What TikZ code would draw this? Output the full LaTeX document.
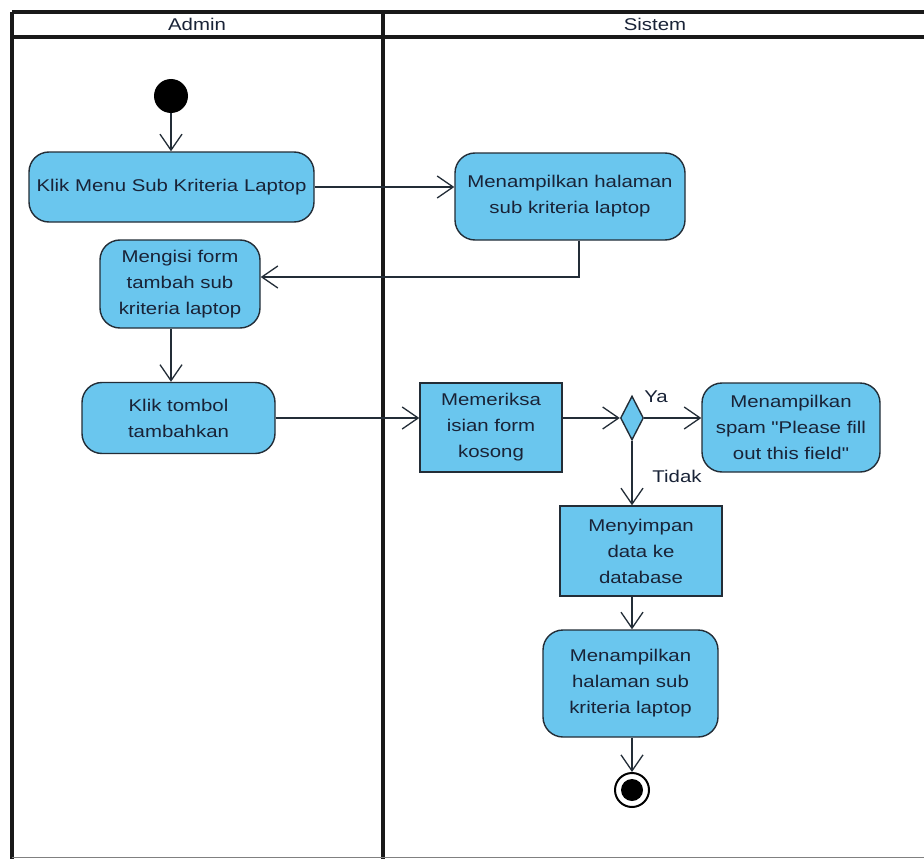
\documentclass[tikz,border=0pt]{standalone}
\usepackage{fontspec}
\setmainfont{Liberation Sans}[FakeStretch=1.2,Ligatures=TeXOff]
\usetikzlibrary{arrows.meta,shapes.geometric}
\definecolor{actfill}{RGB}{106,198,238}
\definecolor{actline}{RGB}{35,45,55}
\definecolor{txt}{RGB}{25,35,55}
\begin{document}
\begin{tikzpicture}[x=1pt,y=-1pt,
  act/.style={draw=actline,fill=actfill,line width=1.4pt,rounded corners=20pt,align=center,inner sep=0pt,font=\fontsize{17}{26}\selectfont,text=txt},
  actbox/.style={act,rounded corners=0pt},
  flow/.style={draw=actline,line width=1.3pt,-{Straight Barb[length=16pt,width=22pt,line width=1.3pt]}},
  lane/.style={line width=3.2pt,draw=black!90},
  lbl/.style={font=\fontsize{17}{20}\selectfont,text=txt}]
\useasboundingbox (0,0) rectangle (924,859);
\fill[white] (0,0) rectangle (924,859);
% swimlane frame
\draw[lane] (12,12) -- (924,12);
\draw[lane] (12,37) -- (924,37);
\draw[lane] (12,12) -- (12,859);
\draw[lane] (383,12) -- (383,859);
\draw[line width=1pt,draw=black!50] (12,857) -- (924,857);
\node[lbl] (hadmin) at (197,24) {Admin};
\node[lbl] (hsistem) at (655,24) {Sistem};
% nodes
\node[circle,fill=black,minimum size=34pt,inner sep=0pt] (init) at (171,96) {};
\node[act,minimum width=285pt,minimum height=70pt] (klik) at (171.5,187) {Klik Menu Sub Kriteria Laptop};
\node[act,minimum width=230pt,minimum height=87pt] (menam) at (570,196.5) {Menampilkan halaman\\sub kriteria laptop};
\node[act,minimum width=160pt,minimum height=88pt] (mengisi) at (180,284) {Mengisi form\\tambah sub\\kriteria laptop};
\node[act,minimum width=193pt,minimum height=71pt] (tombol) at (178.5,418) {Klik tombol\\tambahkan};
\node[actbox,minimum width=142pt,minimum height=89pt] (periksa) at (491,427.5) {Memeriksa\\isian form\\kosong};
\node[diamond,draw=actline,fill=actfill,line width=1.4pt,minimum width=23pt,minimum height=44pt,inner sep=0pt] (dec) at (632,418) {};
\node[act,minimum width=178pt,minimum height=89pt] (spam) at (791,427.5) {Menampilkan\\spam "Please fill\\out this field"};
\node[actbox,minimum width=162pt,minimum height=90pt] (simpan) at (641,551) {Menyimpan\\data ke\\database};
\node[act,minimum width=175pt,minimum height=107pt] (menam2) at (630.5,683.5) {Menampilkan\\halaman sub\\kriteria laptop};
\node[circle,draw=black,line width=2pt,minimum size=34pt,inner sep=0pt] (final) at (632,790) {};
\node[circle,fill=black,minimum size=22pt,inner sep=0pt] (finaldot) at (632,790) {};
\node[lbl] (ya) at (656,397) {Ya};
\node[lbl] (tidak) at (677,476) {Tidak};
% flows
\draw[flow] (init.south) -- (init.south |- klik.north);
\draw[flow] (klik.east) -- (klik.east -| menam.west);
\draw[flow] ([xshift=9pt]menam.south) |- ([yshift=7pt]mengisi.east);
\draw[flow] (mengisi.south -| init) -- (tombol.north -| init);
\draw[flow] (tombol.east) -- (tombol.east -| periksa.west);
\draw[flow] (periksa.west |- dec.west) ++(142,0) -- (dec.west);
\draw[flow] (dec.east) -- (dec.east -| spam.west);
\draw[flow] (dec.south) -- (dec.south |- simpan.north);
\draw[flow] (simpan.south -| dec) -- (menam2.north -| dec);
\draw[flow] (menam2.south -| dec) -- (final.north);
\end{tikzpicture}
\end{document}
